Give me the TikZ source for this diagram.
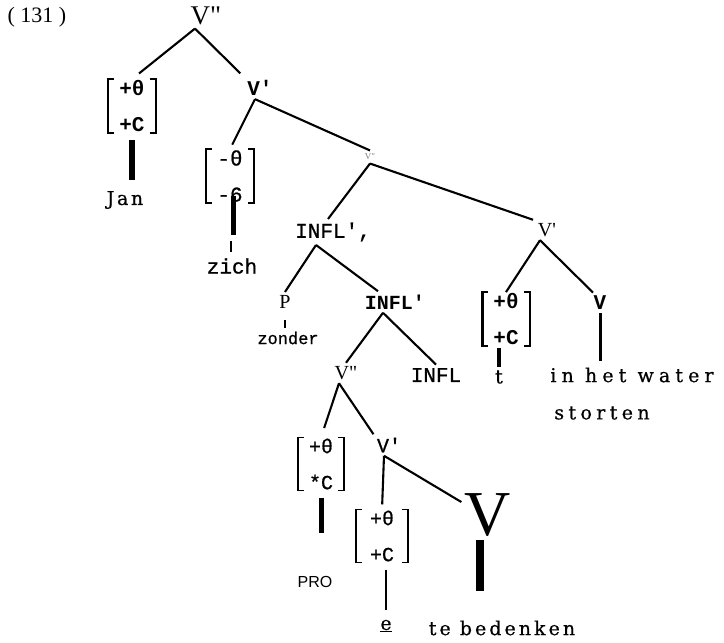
\documentclass[tikz,border=0pt]{standalone}
\usepackage{fontspec}
\setmainfont{Liberation Serif}
\setmonofont{Liberation Mono}
\setsansfont{Liberation Sans}
\newfontfamily\wideserif{DejaVu Serif}[FakeBold=0.6]

% brackets round a feature node
\newcommand\featbrk[2][line width=2.6pt]{%
  \draw[#1] ([xshift=6pt]#2.north west) -- (#2.north west) -- (#2.south west) -- ([xshift=6pt]#2.south west);
  \draw[#1] ([xshift=-6pt]#2.north east) -- (#2.north east) -- (#2.south east) -- ([xshift=-6pt]#2.south east);}

\tikzset{
  branch/.style={line width=2.1pt},
  stem/.style={line width=5pt},
  tick/.style={line width=1.3pt},
  ser/.style={font={\wideserif\fontsize{19}{22}\selectfont\addfontfeature{LetterSpace=#1}}},
  ser/.default=16,
  lab/.style={font={\rmfamily\fontsize{#1}{#1}\selectfont}},
  tw/.style={font={\ttfamily\fontsize{#1}{36}\selectfont\addfontfeature{FakeBold=0.8}}},
  twb/.style={font={\ttfamily\bfseries\fontsize{#1}{36}\selectfont}},
  feat/.style={align=left, inner xsep=11pt, inner ysep=1pt},
}

\begin{document}
\begin{tikzpicture}[x=1pt, y=-1pt]
  \useasboundingbox (0,0) rectangle (724,643);

  \node [lab=22] (num) at (37,17) {( 131 )};
  \node [lab=27] (top) at (206,16) {V\textquotedbl};

  % subject
  \node [feat, twb=21] (fjan) at (132,106) {+θ\\+C};
  \featbrk{fjan}
  \node [ser=14] (jan) at (125,200) {Jan};
  \node [twb=21] (vp1) at (260,88) {V'};

  % clitic
  \node [feat, tw=21] (fzich) at (230,176) {-θ\\-6};
  \featbrk[line width=2pt]{fzich}
  \node [tw=21] (zich) at (232,266) {zich};

  \node [lab=9, text=gray] (vmid) at (370,157) {V\textquotedbl};
  \node [tw=21] (inflc) at (333,232) {INFL',};
  \node [lab=20] (vright) at (547,230) {V\textquotesingle};

  % adjunct
  \node [lab=20] (p) at (285,302) {P};
  \node [tw=17] (zonder) at (288,338) {zonder};
  \node [twb=20] (inflb) at (395,302) {INFL'};
  \node [lab=20] (vlow) at (346,373) {V\textquotedbl};
  \node [tw=21] (infl) at (436,375) {INFL};
  \node [feat, tw=20] (fpro) at (321,464) {+θ\\*C};
  \featbrk[line width=1.5pt]{fpro}
  \node [font=\sffamily\fontsize{16}{16}\selectfont] (pro) at (315,582) {PRO};
  \node [tw=20] (vp2) at (389,445) {V'};
  \node [feat, tw=20, inner xsep=14pt] (fe) at (382,536) {+θ\\+C};
  \featbrk[line width=1.5pt]{fe}
  \node [ser=0] (e) at (386,626) {\underline{e}};
  \node [lab=64] (bigv) at (488,515) {V};
  \node [ser] (bede) at (502,628) {te bedenken};

  % lower verb
  \node [feat, twb=21] (fright) at (506,319) {+θ\\+C};
  \featbrk{fright}
  \node [ser=0] (t) at (499,377) {t};
  \node [twb=21] (vbold) at (600,303) {V};
  \node [ser=27] (water) at (632,375) {in het water};
  \node [ser=23] (storten) at (602,413) {storten};

  % branches
  \draw [branch, shorten >=9pt] ([xshift=-11pt]top.south) -- (fjan.north);
  \draw [branch, shorten >=5pt] ([xshift=-11pt]top.south) -- (vp1.north west);
  \draw [branch, shorten >=5pt] ([xshift=-5pt]vp1.south) -- (fzich.north);
  \draw [branch] ([xshift=-5pt]vp1.south) -- (vmid.north);
  \draw [branch] (vmid.south) -- ([xshift=-5pt]inflc.north);
  \draw [branch] (vmid.south) -- ([xshift=-14pt]vright.north);
  \draw [branch] ([xshift=-17pt]inflc.south) -- (p.north);
  \draw [branch] ([xshift=-17pt]inflc.south) -- ([xshift=-17pt]inflb.north);
  \draw [branch] ([xshift=-7pt]vright.south) -- (fright.north);
  \draw [branch] ([xshift=-7pt]vright.south) -- ([xshift=-7pt]vbold.north);
  \draw [branch] ([xshift=-12pt]inflb.south) -- (vlow.north);
  \draw [branch] ([xshift=-12pt]inflb.south) -- (infl.north);
  \draw [branch, shorten >=10pt] ([xshift=-7pt]vlow.south) -- (fpro.north);
  \draw [branch] ([xshift=-7pt]vlow.south) -- (vp2.north west);
  \draw [branch, shorten >=5pt] ([xshift=-5pt]vp2.south) -- (fe.north);
  \draw [branch] ([xshift=-5pt]vp2.south) -- ([yshift=-12pt]bigv.north west);

  % stems
  \draw [stem, line width=6pt, shorten <=7pt, shorten >=8pt] (fjan.south) -- (fjan.south |- jan.north);
  \draw [stem, shorten <=-7pt, shorten >=20pt] ([xshift=3pt]fzich.south) -- ([xshift=3pt]fzich.south |- zich.north);
  \draw [tick, shorten <=38pt, shorten >=3pt] ([xshift=1pt]fzich.south) -- ([xshift=1pt]fzich.south |- zich.north);
  \draw [tick, shorten <=8pt] (p.south) -- (p.south |- zonder.north);
  \draw [stem, line width=4pt, shorten <=2pt] (fright.south -| t.north) -- (t.north);
  \draw [line width=3pt, shorten >=3pt] (vbold.south) -- (vbold.south |- water.north);
  \draw [stem, shorten <=7pt, shorten >=40pt] (fpro.south) -- (fpro.south |- pro.north);
  \draw [line width=2.5pt, shorten <=7pt, shorten >=6pt] ([xshift=4pt]fe.south) -- (e.north);
  \draw [stem, line width=8pt, shorten >=26pt] ([xshift=-8pt]bigv.south) -- ([xshift=-8pt]bigv.south |- bede.north);
\end{tikzpicture}
\end{document}
